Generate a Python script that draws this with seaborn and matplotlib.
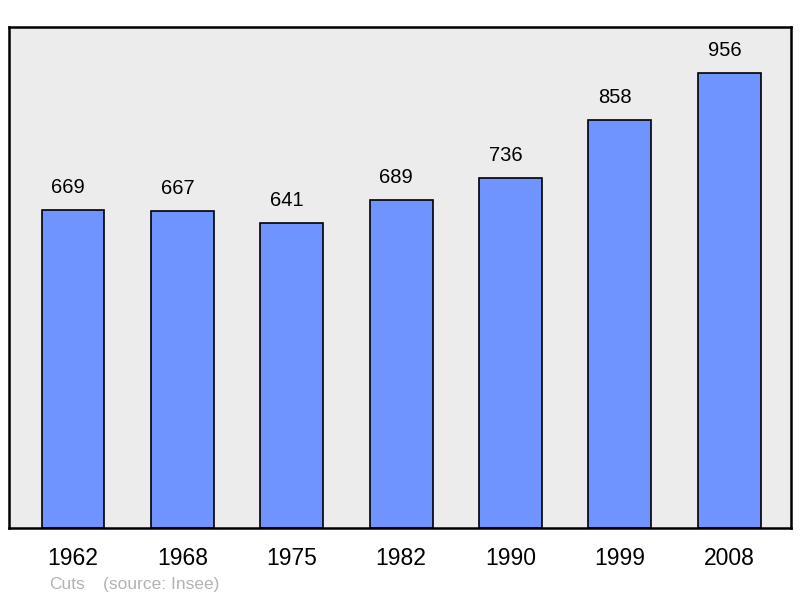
import pandas as pd
import matplotlib
matplotlib.use("Agg")
import matplotlib.pyplot as plt
import seaborn as sns

# population by census year
years = ["1962", "1968", "1975", "1982", "1990", "1999", "2008"]
population = [669, 667, 641, 689, 736, 858, 956]

df = pd.DataFrame({"year": years, "pop": population})

sns.set_style("white")
plt.rcParams['font.family'] = ['Liberation Sans', 'DejaVu Sans']

fig = plt.figure(figsize=(8, 5.98), dpi=100)
ax = fig.add_axes([9 / 800, 1 - 528 / 598, 782 / 800, 501 / 598])
ax.set_facecolor("#ececec")

sns.barplot(data=df, x="year", y="pop", color="#7094ff", saturation=1,
            width=0.575, edgecolor="black", linewidth=1.2, ax=ax)

# value labels above bars (sit a little left of the bar centre, like the original)
for i, v in enumerate(population):
    ax.annotate(str(v), xy=(i, v), xytext=(-3.5, 16), textcoords="offset points",
                ha="center", va="center", fontsize=14.5, color="black")

ax.set_xlim(-0.585, 6.565)
ax.set_ylim(0, 1053)
ax.set_xlabel("")
ax.set_ylabel("")
ax.set_yticks([])
ax.tick_params(axis="x", length=0, labelsize=16.5, pad=14, labelcolor="black")

for s in ax.spines.values():
    s.set_visible(True)
    s.set_color("black")
    s.set_linewidth(1.8)

fig.text(49 / 800, 1 - 589 / 598, "Cuts", fontsize=12.5, color="#b3b3b3", va="baseline")
fig.text(103 / 800, 1 - 589 / 598, "(source: Insee)", fontsize=12.5, color="#b3b3b3", va="baseline")

fig.savefig("out.png", dpi=100)
